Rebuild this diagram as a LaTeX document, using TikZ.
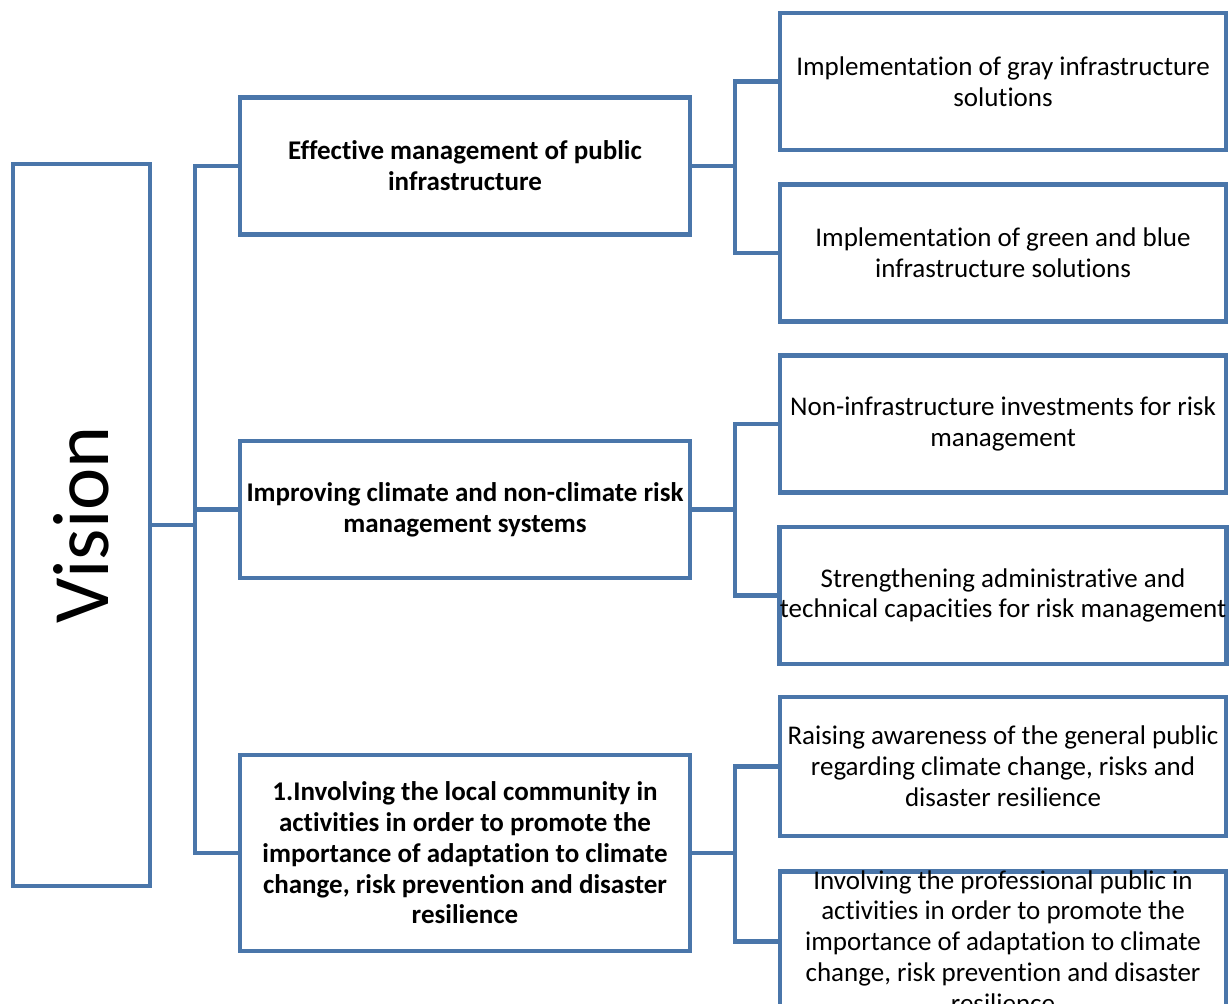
\documentclass[tikz,border=0pt]{standalone}
\usepackage{fontspec}
\usepackage{graphicx}
\setmainfont{Carlito}[Ligatures=NoCommon]
\definecolor{linkblue}{RGB}{74,118,170}
\begin{document}
\begin{tikzpicture}[x=0.5pt,y=-0.5pt,
  box/.style={draw=linkblue,line width=2.4pt,fill=white,inner sep=0pt,align=center,
    font=\fontsize{13.5}{15.4}\selectfont},
  goal/.style={box,minimum width=225pt,minimum height=68.5pt,
    font=\fontsize{13.5}{15.4}\selectfont\bfseries},
  measure/.style={box,minimum width=223pt,minimum height=68.5pt},
  link/.style={draw=linkblue,line width=2.4pt}]
\useasboundingbox (0,0) rectangle (1229,1004);
\clip (0,0) rectangle (1229,1004);
\coordinate (bus) at (195,0);
\coordinate (subbus) at (735,0);
% vision
\node[box,minimum width=68.5pt,minimum height=361pt] (vision) at (81.5,525)
  {\rotatebox{90}{\fontsize{40}{48}\selectfont Vision}};
% goals
\node[goal] (goal1) at (465,166) {Effective management of public\\infrastructure};
\node[goal] (goal2) at (465,509.5) {Improving climate and non-climate risk\\management systems};
\node[goal,minimum height=98pt] (goal3) at (465,853) {1.Involving the local community in\\activities in order to promote the\\importance of adaptation to climate\\change, risk prevention and disaster\\resilience};
% measures
\node[measure] (meas1a) at (1003,81.5) {Implementation of gray infrastructure\\solutions};
\node[measure] (meas1b) at (1003,253) {Implementation of green and blue\\infrastructure solutions};
\node[measure] (meas2a) at (1003,424) {Non-infrastructure investments for risk\\management};
\node[measure] (meas2b) at (1003,595.5) {Strengthening administrative and\\technical capacities for risk management};
\node[measure,minimum height=69.5pt] (meas3a) at (1003,766.5) {Raising awareness of the general public\\regarding climate change, risks and\\disaster resilience};
\node[measure,minimum height=70pt,anchor=north] (meas3b) at (1003,869) {};
\node[align=center,inner sep=0pt,font=\fontsize{13.5}{15.4}\selectfont] (meas3btext) at (meas3b.center)
  {Involving the professional public in\\activities in order to promote the\\importance of adaptation to climate\\change, risk prevention and disaster\\resilience};
% connectors
\draw[link] (vision.east) -- (vision.east -| bus);
\draw[link] (goal1.west) -- (goal1.west -| bus) -- (goal3.west -| bus) -- (goal3.west);
\draw[link] (goal2.west) -- (goal2.west -| bus);
\foreach \g in {1,2,3}{
  \draw[link] (goal\g.east) -- (goal\g.east -| subbus);
  \draw[link] (meas\g a.west) -- (meas\g a.west -| subbus) -- (meas\g b.west -| subbus) -- (meas\g b.west);
}
\end{tikzpicture}
\end{document}
